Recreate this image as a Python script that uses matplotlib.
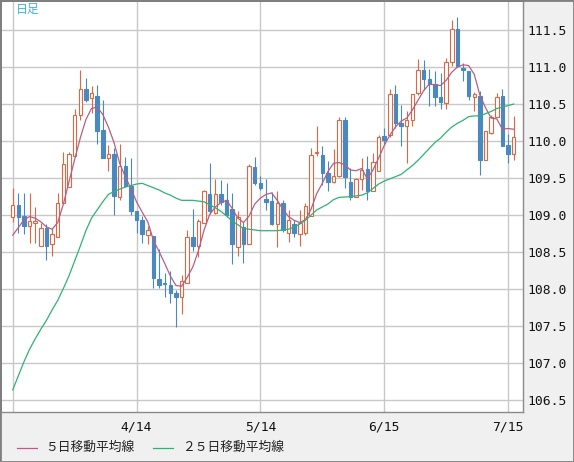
import matplotlib.pyplot as plt
from matplotlib.lines import Line2D
from matplotlib.patches import Rectangle

plt.rcParams['font.family'] = ['Noto Sans CJK JP', 'DejaVu Sans']

# daily candles (oldest first)
opens = [108.97, 109.14, 108.99, 108.85, 108.89, 108.59, 108.82, 108.61, 108.71, 109.16,
         109.38, 109.80, 110.35, 110.70, 110.58, 110.61, 110.15, 109.77, 109.83, 109.25,
         109.66, 109.39, 109.06, 108.94, 108.73, 108.72, 108.14, 108.08, 108.06, 107.95,
         107.90, 108.09, 108.70, 108.58, 108.90, 109.29, 109.03, 109.29, 109.21, 109.08,
         108.57, 108.84, 108.61, 109.65, 109.44, 109.22, 109.19, 108.88, 109.17, 108.76,
         108.88, 108.75, 108.76, 108.99, 109.84, 109.81, 109.57, 109.45, 109.53, 110.29,
         109.45, 109.25, 109.49, 109.62, 109.33, 109.60, 110.07, 110.08, 110.64, 110.25,
         110.20, 110.29, 110.65, 110.96, 110.84, 110.77, 110.59, 110.52, 111.07, 111.52,
         110.99, 110.94, 110.60, 110.61, 109.74, 110.11, 110.33, 110.61, 109.95, 109.82]
highs = [109.37, 109.30, 109.30, 109.30, 109.11, 108.89, 108.88, 108.82, 109.30, 109.85,
         109.85, 110.44, 110.96, 110.85, 110.74, 110.76, 110.56, 109.95, 109.90, 109.96,
         109.78, 109.77, 109.06, 108.99, 108.85, 108.72, 108.54, 108.22, 108.24, 107.99,
         108.19, 108.80, 109.08, 108.95, 109.34, 109.71, 109.49, 109.47, 109.43, 109.30,
         109.06, 108.91, 109.69, 109.79, 109.53, 109.49, 109.31, 109.33, 109.20, 109.07,
         108.94, 109.07, 109.17, 109.90, 110.21, 109.94, 109.73, 109.89, 110.33, 110.32,
         109.63, 109.50, 109.77, 109.80, 109.84, 110.08, 110.17, 110.71, 110.76, 110.49,
         110.40, 110.64, 111.11, 111.10, 110.98, 110.95, 110.92, 111.12, 111.64, 111.67,
         111.05, 110.94, 110.66, 110.68, 110.13, 110.35, 110.65, 110.70, 110.10, 110.34]
lows = [108.91, 108.76, 108.75, 108.63, 108.63, 108.59, 108.40, 108.45, 108.71, 109.16,
        109.38, 109.80, 110.28, 110.53, 110.38, 109.96, 109.77, 109.59, 109.00, 109.21,
        109.38, 109.00, 108.76, 108.62, 108.61, 108.01, 108.01, 107.90, 107.82, 107.49,
        107.66, 108.09, 108.51, 108.44, 108.90, 109.01, 109.01, 109.14, 108.98, 108.34,
        108.45, 108.36, 108.61, 109.41, 109.34, 109.07, 108.87, 108.57, 108.77, 108.64,
        108.71, 108.58, 108.73, 108.99, 109.80, 109.41, 109.33, 109.44, 109.52, 109.36,
        109.21, 109.24, 109.34, 109.21, 109.33, 109.60, 109.95, 110.06, 110.18, 109.93,
        109.71, 110.21, 110.62, 110.69, 110.48, 110.47, 110.43, 110.43, 111.02, 111.00,
        110.81, 110.56, 110.40, 109.54, 109.74, 110.10, 110.33, 109.93, 109.71, 109.74]
closes = [109.14, 108.98, 108.85, 108.92, 108.92, 108.82, 108.59, 108.74, 109.17, 109.69,
          109.83, 110.35, 110.71, 110.56, 110.65, 110.13, 109.77, 109.83, 109.26, 109.66,
          109.39, 109.05, 108.94, 108.74, 108.80, 108.15, 108.06, 108.07, 107.95, 107.89,
          108.11, 108.70, 108.58, 108.92, 109.33, 109.06, 109.29, 109.18, 109.00, 108.61,
          108.97, 108.61, 109.66, 109.44, 109.37, 109.18, 108.88, 109.17, 108.80, 108.94,
          108.76, 108.89, 109.12, 109.81, 109.85, 109.57, 109.45, 109.53, 110.29, 109.52,
          109.25, 109.49, 109.61, 109.33, 109.72, 110.06, 110.02, 110.64, 110.24, 110.20,
          110.29, 110.64, 110.96, 110.84, 110.77, 110.59, 110.53, 111.07, 111.52, 111.02,
          110.96, 110.61, 110.63, 109.74, 110.13, 110.33, 110.60, 109.94, 109.83, 110.06]

# moving averages as drawn on the chart
ma5 = [108.73, 108.83, 108.94, 108.98, 108.96, 108.91, 108.84, 108.81, 108.90, 109.15,
       109.45, 109.75, 110.04, 110.29, 110.44, 110.46, 110.36, 110.19, 109.98, 109.70,
       109.52, 109.36, 109.18, 109.04, 108.91, 108.66, 108.51, 108.35, 108.18, 108.05,
       108.04, 108.16, 108.30, 108.52, 108.80, 109.01, 109.11, 109.17, 109.20, 109.09,
       108.96, 108.90, 108.99, 109.15, 109.23, 109.28, 109.30, 109.20, 109.08, 108.98,
       108.93, 108.90, 108.94, 109.08, 109.29, 109.43, 109.59, 109.70, 109.71, 109.68,
       109.61, 109.60, 109.63, 109.49, 109.61, 109.77, 109.94, 110.08, 110.19, 110.27,
       110.31, 110.42, 110.55, 110.68, 110.77, 110.76, 110.75, 110.82, 110.93, 111.00,
       111.03, 111.02, 110.90, 110.62, 110.45, 110.31, 110.30, 110.16, 110.17, 110.16]
ma25 = [106.64, 106.83, 107.02, 107.19, 107.33, 107.46, 107.58, 107.72, 107.85, 108.01,
        108.18, 108.38, 108.58, 108.79, 108.96, 109.07, 109.18, 109.28, 109.32, 109.35,
        109.38, 109.40, 109.42, 109.43, 109.40, 109.37, 109.34, 109.30, 109.27, 109.23,
        109.20, 109.20, 109.20, 109.19, 109.18, 109.14, 109.10, 109.05, 108.99, 108.92,
        108.87, 108.82, 108.81, 108.80, 108.79, 108.79, 108.79, 108.79, 108.80, 108.81,
        108.84, 108.88, 108.93, 109.00, 109.07, 109.11, 109.15, 109.21, 109.24, 109.245,
        109.25, 109.26, 109.27, 109.30, 109.36, 109.42, 109.46, 109.49, 109.52, 109.55,
        109.61, 109.67, 109.74, 109.82, 109.90, 109.98, 110.04, 110.12, 110.19, 110.24,
        110.28, 110.33, 110.34, 110.34, 110.37, 110.40, 110.44, 110.46, 110.48, 110.50]

tick_pos = [0, 22, 44, 66, 88]
tick_labels = ['', '4/14', '5/14', '6/15', '7/15']
y_ticks = [106.5, 107.0, 107.5, 108.0, 108.5, 109.0, 109.5, 110.0, 110.5, 111.0, 111.5]

up_col = '#dc6843'
dn_col = '#4a88c0'
ma5_col = '#b55f86'
ma25_col = '#2fb274'

W, H = 574, 462
fig = plt.figure(figsize=(W / 100, H / 100), dpi=100, facecolor='#f0f0f0')
ax = fig.add_axes([1 / W, (H - 412) / H, 522 / W, 411 / H], facecolor='white')

x = list(range(len(closes)))
ax.vlines(x, lows, highs, colors=[up_col if c >= o else dn_col for o, c in zip(opens, closes)],
          linewidth=0.8, zorder=2)
for i in x:
    o, c = opens[i], closes[i]
    up = c >= o
    h = max(abs(c - o), 0.012)
    ax.bar(i, h, bottom=min(o, c), width=0.62,
           facecolor='white' if up else dn_col,
           edgecolor=up_col if up else dn_col, linewidth=0.8, zorder=3)

ax.plot(x, ma5, color=ma5_col, linewidth=0.9, zorder=4)
ax.plot(x, ma25, color=ma25_col, linewidth=0.9, zorder=4)

ax.set_xlim((1 - 12.7) / 5.629, (523 - 12.7) / 5.629)
ax.set_ylim(111.5 - 382 / 74.06, 111.5 + 29 / 74.06)

ax.set_xticks(tick_pos)
ax.set_xticklabels(tick_labels, family='DejaVu Sans Mono', fontsize=9.4)
ax.set_yticks(y_ticks)
ax.set_yticklabels(['%.1f' % v for v in y_ticks], family='DejaVu Sans Mono', fontsize=9.4)
ax.yaxis.tick_right()
ax.tick_params(axis='both', length=0, colors='#111111')
ax.tick_params(axis='x', pad=6)
ax.tick_params(axis='y', pad=3)
ax.grid(True, color='#c8c8c8', linewidth=1.0, zorder=0)
ax.set_axisbelow(True)
for side in ['left', 'top']:
    ax.spines[side].set_color('#707070')
    ax.spines[side].set_linewidth(1.4)
for side in ['right', 'bottom']:
    ax.spines[side].set_color('#8a8a8a')
    ax.spines[side].set_linewidth(1.0)

ax.text(15 / 522, 1 - 2 / 411, '日足', transform=ax.transAxes, color='#3fb2e6',
        fontsize=8.6, va='top', ha='left')

# legend along the bottom strip
def px(xp, yp):
    return xp / W, 1 - yp / H

for (x0, x1, col, label, tx) in [(16.7, 36.7, ma5_col, '５日移動平均線', 45),
                                  (153.3, 173.3, ma25_col, '２５日移動平均線', 182.5)]:
    (a, b), (c, d) = px(x0, 447.5), px(x1, 447.5)
    fig.add_artist(Line2D([a, c], [b, d], color=col, linewidth=0.9))
    tx_f, ty_f = px(tx, 447.5)
    fig.text(tx_f, ty_f, label, fontsize=9.2, color='#222222', va='center', ha='left')

fig.add_artist(Rectangle((0, 0), 1, 1, transform=fig.transFigure, fill=False,
                         edgecolor='#808080', linewidth=2))

fig.savefig('out.png', dpi=100, facecolor=fig.get_facecolor())
